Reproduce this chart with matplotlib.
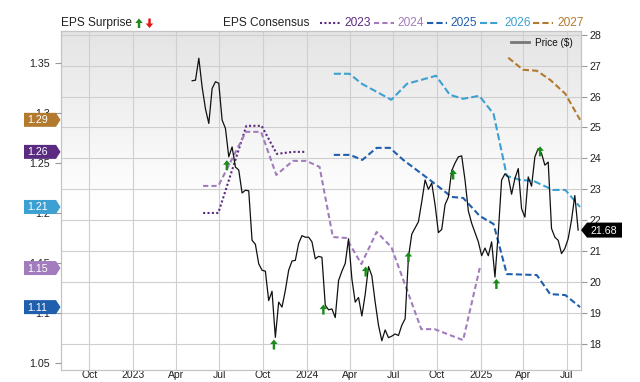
import matplotlib
matplotlib.use('Agg')
import matplotlib.pyplot as plt
import matplotlib.transforms as mtransforms
from matplotlib.patches import Polygon
from matplotlib.lines import Line2D
import numpy as np
import pandas as pd

plt.rcParams['font.family'] = ['Liberation Sans', 'DejaVu Sans']

# ---------------- data ----------------
price_start = "2023-05-05"
price_values = [26.51, 26.53, 27.24, 26.3, 25.6, 25.13, 26.26, 26.48, 26.43, 25.24,
                24.97, 24.05, 24.37, 23.72, 23.62, 22.88, 22.97, 22.95, 21.35, 21.22,
                20.59, 20.38, 20.35, 19.40, 19.70, 18.21, 19.35, 19.19, 19.73, 20.38,
                20.68, 20.7, 21.25, 21.5, 21.45, 21.45, 21.3, 20.75, 20.83, 20.8,
                19.25, 19.1, 19.13, 18.85, 20.05, 20.35, 20.6, 21.4, 20.1, 19.35,
                19.5, 18.9, 19.6, 20.5, 20.2, 19.35, 18.6, 18.1, 18.45, 18.2,
                18.25, 18.32, 18.27, 18.6, 18.81, 20.8, 21.55, 21.75, 21.95, 22.6,
                23.3, 23.0, 23.2, 22.5, 21.6, 21.7, 22.5, 22.75, 23.6, 23.85,
                24.05, 24.08, 23.3, 22.3, 21.9, 21.6, 21.3, 20.85, 21.1, 20.85,
                21.3, 20.16, 21.6, 23.3, 23.5, 23.4, 22.84, 23.35, 23.67, 22.37,
                22.10, 23.40, 23.1, 24.05, 24.32, 24.16, 23.78, 23.88, 21.73, 21.45,
                21.35, 20.92, 21.08, 21.40, 22.0, 22.8, 21.68]
last_price = 21.68

eps2023_dates = ["2023-05-28", "2023-06-29", "2023-08-27", "2023-09-28", "2023-10-30",
                 "2023-12-03", "2023-12-28"]
eps2023 = [1.200, 1.200, 1.287, 1.287, 1.259, 1.261, 1.261]

eps2024_dates = ["2023-05-28", "2023-06-29", "2023-08-26", "2023-09-27", "2023-10-29",
                 "2023-12-03", "2023-12-31", "2024-01-28", "2024-02-25", "2024-03-24",
                 "2024-04-25", "2024-05-27", "2024-06-27", "2024-08-29", "2024-09-26",
                 "2024-11-25", "2024-12-30"]
eps2024 = [1.227, 1.227, 1.281, 1.281, 1.238, 1.252, 1.252, 1.246, 1.176, 1.175,
           1.149, 1.181, 1.166, 1.084, 1.084, 1.073, 1.145]

eps2025_dates = ["2024-02-27", "2024-04-01", "2024-04-27", "2024-05-27", "2024-06-24",
                 "2024-07-22", "2024-09-16", "2024-11-01", "2024-11-25", "2024-12-30",
                 "2025-01-28", "2025-02-25", "2025-04-29", "2025-05-27", "2025-06-28",
                 "2025-07-29"]
eps2025 = [1.258, 1.258, 1.253, 1.265, 1.265, 1.253, 1.233, 1.216, 1.215, 1.197,
           1.189, 1.139, 1.138, 1.119, 1.118, 1.106]

eps2026_dates = ["2024-02-27", "2024-03-31", "2024-04-26", "2024-06-27", "2024-07-30",
                 "2024-09-29", "2024-10-28", "2024-11-25", "2024-12-29", "2025-01-28",
                 "2025-02-25", "2025-03-25", "2025-04-22", "2025-06-02", "2025-06-28",
                 "2025-07-29"]
eps2026 = [1.339, 1.339, 1.329, 1.313, 1.329, 1.337, 1.318, 1.314, 1.317, 1.299,
           1.237, 1.233, 1.232, 1.223, 1.223, 1.206]

eps2027_dates = ["2025-02-28", "2025-03-31", "2025-04-29", "2025-05-27", "2025-06-28",
                 "2025-07-29"]
eps2027 = [1.355, 1.343, 1.342, 1.333, 1.319, 1.293]

series_names = ["2023", "2024", "2025", "2026", "2027"]
series_dates = [eps2023_dates, eps2024_dates, eps2025_dates, eps2026_dates, eps2027_dates]
series_vals = [eps2023, eps2024, eps2025, eps2026, eps2027]
series_tags = ["1.26", "1.15", "1.11", "1.21", "1.29"]

surprise_dates = ["2023-07-17", "2023-10-24", "2024-02-05", "2024-05-04",
                  "2024-08-02", "2024-11-04", "2025-02-03", "2025-05-06"]
surprise_price = [23.94, 18.14, 19.27, 20.5, 20.97, 23.64, 20.1, 24.39]

xtick_dates = ["2022-10-01", "2023-01-01", "2023-04-01", "2023-07-01", "2023-10-01",
               "2024-01-01", "2024-04-01", "2024-07-01", "2024-10-01", "2025-01-01",
               "2025-04-01", "2025-07-01"]
xtick_labels = ["Oct", "2023", "Apr", "Jul", "Oct", "2024", "Apr", "Jul", "Oct", "2025",
                "Apr", "Jul"]
price_ticks = [18, 19, 20, 21, 22, 23, 24, 25, 26, 27, 28]
eps_ticks = [1.05, 1.10, 1.15, 1.20, 1.25, 1.30, 1.35]
eps_tick_labels = ["1.05", "1.1", "1.15", "1.2", "1.25", "1.3", "1.35"]

# ---------------- styles ----------------
colors = {"2023": "#5b2b82", "2024": "#a27cbd", "2025": "#1f5fae",
          "2026": "#3da0d2", "2027": "#b27a2e"}
styles = {"2023": (0, (1, 1.1)), "2024": (0, (2.5, 1.5)), "2025": (0, (3, 1.5)),
          "2026": (0, (3.4, 1.5)), "2027": (0, (3, 1.5))}
GREEN = "#1a8a1a"
RED = "#e01616"
GRID = "#cfcfcf"
PX = 0.72  # mutation scale so that arrow sizes are in pixels (dpi 100)
ARROW = 'simple,head_length=4.5,head_width=7.5,tail_width=2.4'

W, H = 640, 382
L, R, T, B = 60.5, 581, 30.7, 369.5
rect = [L / W, 1 - B / H, (R - L) / W, (B - T) / H]

fig = plt.figure(figsize=(6.4, 3.82), dpi=100)

# background gradient
bg = fig.add_axes(rect, zorder=-1)
n = 256
t = np.linspace(0, 1, n)
g = 0.895 + 0.105 * np.clip(t / 0.5, 0, 1)
img = np.dstack([g, g, g]).reshape(n, 1, 3)
bg.imshow(img, aspect='auto', extent=[0, 1, 0, 1], interpolation='bilinear')
bg.set_xlim(0, 1); bg.set_ylim(0, 1)
bg.axis('off')

ax = fig.add_axes(rect)
ax.patch.set_visible(False)
axe = ax.twinx()
axp = ax.twinx()

xlim = (pd.Timestamp("2022-08-01"), pd.Timestamp("2025-07-31"))
plim = (17.17, 28.13)
elim = (1.0437, 1.382)

# base axis: price ticks on the right, grid
ax.set_xlim(*xlim)
ax.set_ylim(*plim)
ax.yaxis.tick_right()
ax.set_yticks(price_ticks)
ax.set_yticklabels([str(v) for v in price_ticks])
ax.set_xticks(pd.to_datetime(xtick_dates))
ax.set_xticklabels(xtick_labels)
ax.tick_params(axis='x', length=0, pad=0.3, labelsize=7.5, labelcolor='#222222')
ax.tick_params(axis='y', length=4.4, width=0.8, color='#999999', pad=1.5,
               labelsize=7.7, labelcolor='#222222')
ax.grid(True, color=GRID, lw=0.8)
ax.set_axisbelow(True)
for s in ax.spines.values():
    s.set_color('#c4c4c4')
    s.set_linewidth(0.9)

# EPS axis on the left
axe.set_ylim(*elim)
axe.yaxis.tick_left()
axe.yaxis.set_label_position('left')
axe.set_yticks(eps_ticks)
axe.set_yticklabels(eps_tick_labels)
axe.tick_params(axis='y', length=4.4, width=0.8, color='#999999', pad=3,
                labelsize=7.7, labelcolor='#222222')
for s in axe.spines.values():
    s.set_visible(False)
for name, d, v in zip(series_names, series_dates, series_vals):
    axe.plot(pd.to_datetime(d), v, color=colors[name], lw=1.5, ls=styles[name],
             solid_capstyle='butt', dash_capstyle='butt')

# price axis overlay
axp.set_ylim(*plim)
axp.set_yticks([])
for s in axp.spines.values():
    s.set_visible(False)
price_dates = pd.date_range(price_start, periods=len(price_values), freq='7D')
axp.plot(price_dates, price_values, color='#111111', lw=0.9)

for d, p in zip(pd.to_datetime(surprise_dates), surprise_price):
    axp.annotate('', xy=(d, p), xytext=(0, -10), textcoords='offset pixels',
                 xycoords='data',
                 arrowprops=dict(arrowstyle=ARROW, color=GREEN, lw=0, shrinkA=0,
                                 shrinkB=0, mutation_scale=PX))

# left value tags (placed at each series' latest value)
blend_e = mtransforms.blended_transform_factory(axe.transAxes, axe.transData)
dpi = fig.dpi
for name, vals, label in zip(series_names, series_vals, series_tags):
    val = vals[-1]
    verts = np.array([[0, 0], [-4.5, 7], [-36.5, 7], [-36.5, -7], [-4.5, -7]]) / dpi
    tr = fig.dpi_scale_trans + mtransforms.ScaledTranslation(0, val, blend_e)
    axp.add_patch(Polygon(verts, closed=True, transform=tr, facecolor=colors[name],
                          edgecolor='none', clip_on=False, zorder=10))
    axp.annotate(label, xy=(0, val), xycoords=blend_e, xytext=(-33.5, -0.5),
                 textcoords='offset pixels', ha='left', va='center', color='white',
                 fontsize=7.7, zorder=11, annotation_clip=False)

# right price tag
blend_p = mtransforms.blended_transform_factory(axp.transAxes, axp.transData)
verts = np.array([[0, 0], [6, 7.5], [41, 7.5], [41, -7.5], [6, -7.5]]) / dpi
tr = fig.dpi_scale_trans + mtransforms.ScaledTranslation(1, last_price, blend_p)
axp.add_patch(Polygon(verts, closed=True, transform=tr, facecolor='black',
                      edgecolor='none', clip_on=False, zorder=10))
axp.annotate(f"{last_price:.2f}", xy=(1, last_price), xycoords=blend_p,
             xytext=(9, -0.5), textcoords='offset pixels', ha='left', va='center',
             color='white', fontsize=7.7, zorder=11, annotation_clip=False)

# price legend inside plot
def fx(x):
    return x / W

def fy(y):
    return (H - y) / H

fig.add_artist(Line2D([fx(511), fx(529)], [fy(42.3), fy(42.3)], color='#777777', lw=2,
                      transform=fig.transFigure))
fig.text(fx(535), fy(42.5), "Price ($)", fontsize=7.2, color='#111111', va='center',
         ha='left')

# top legend
ly = 23.3
fig.text(fx(60.7), fy(ly), "EPS Surprise", fontsize=8.6, color='#222222', va='center',
         ha='left')
ax.annotate('', xy=(139, H - 18.5), xytext=(139, H - 28), xycoords='figure pixels',
            textcoords='figure pixels', annotation_clip=False,
            arrowprops=dict(arrowstyle=ARROW, color=GREEN, lw=0, shrinkA=0, shrinkB=0,
                            mutation_scale=PX))
ax.annotate('', xy=(149.5, H - 28), xytext=(149.5, H - 18.5), xycoords='figure pixels',
            textcoords='figure pixels', annotation_clip=False,
            arrowprops=dict(arrowstyle=ARROW, color=RED, lw=0, shrinkA=0, shrinkB=0,
                            mutation_scale=PX))
fig.text(fx(222.8), fy(ly), "EPS Consensus", fontsize=8.6, color='#222222', va='center',
         ha='left')
leg_x = {"2023": (320, 344), "2024": (374, 397), "2025": (427, 450),
         "2026": (480, 504), "2027": (533, 557)}
for name in series_names:
    x0, xt = leg_x[name]
    fig.add_artist(Line2D([fx(x0), fx(x0 + 20)], [fy(23), fy(23)], color=colors[name],
                          lw=1.5, ls=styles[name], transform=fig.transFigure,
                          dash_capstyle='butt'))
    fig.text(fx(xt), fy(ly), name, fontsize=8.6, color=colors[name], va='center',
             ha='left')

fig.savefig("out.png", dpi=100)
